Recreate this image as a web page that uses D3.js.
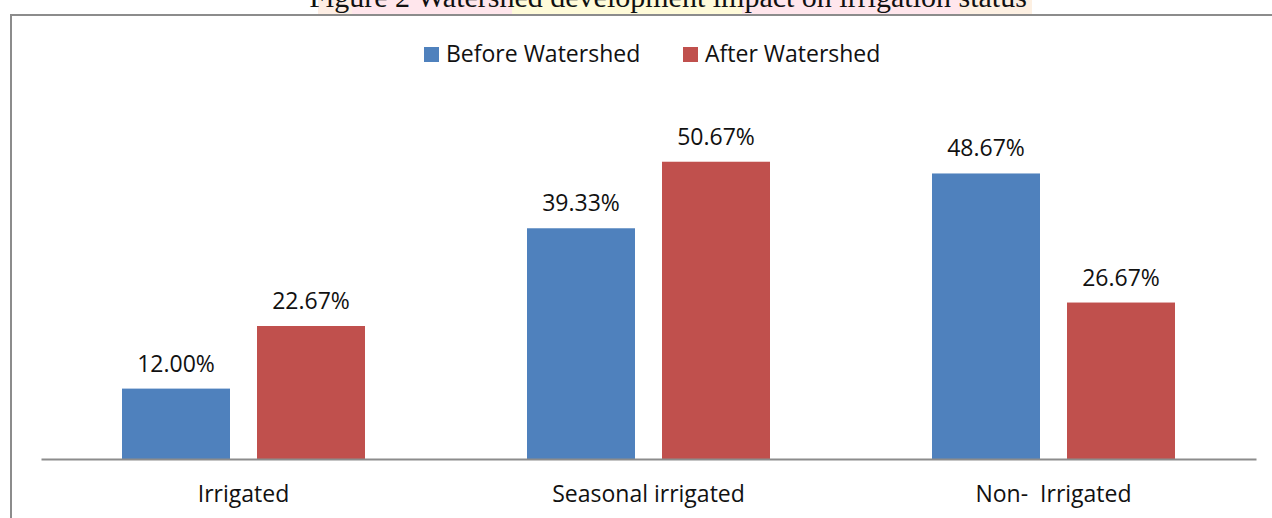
<!DOCTYPE html>
<meta charset="utf-8">
<style type="text/css">
body {
  margin: 0;
  background: #fff;
  font-family: "Open Sans", "Noto Sans", sans-serif;
}
.title {
  font-family: "Liberation Serif", "DejaVu Serif", serif;
  font-size: 30px;
  fill: #111;
}
.label, .legend text {
  font-size: 23px;
  fill: #111;
}
</style>
<body>
</body>

<script src="https://d3js.org/d3.v7.min.js"></script>
<script>
var categories = ["Irrigated", "Seasonal irrigated", "Non-  Irrigated"];
var series = ["Before Watershed", "After Watershed"];
var before = [12.00, 39.33, 48.67];
var after = [22.67, 50.67, 26.67];
var colors = ["#4f81bd", "#c0504d"];

var W = 1272, H = 518;

var svg = d3.select("body")
  .append("svg")
    .attr("width", W)
    .attr("height", H);

// faint watermark behind the cut-off caption
var wm = [
  [318, 352, "#fdeee4"], [352, 512, "#ffe6ec"], [512, 742, "#fffbd9"],
  [742, 960, "#ffe6ec"], [960, 1032, "#fdf0e2"]
];
svg.selectAll("rect.wm")
  .data(wm)
  .enter().append("rect")
    .attr("class", "wm")
    .attr("x", function(d) { return d[0]; })
    .attr("y", 0)
    .attr("width", function(d) { return d[1] - d[0]; })
    .attr("height", 14)
    .attr("fill", function(d) { return d[2]; });

svg.append("text")
  .attr("class", "title")
  .attr("x", 668)
  .attr("y", 7)
  .attr("text-anchor", "middle")
  .text("Figure 2 Watershed development impact on irrigation status");

// chart frame (runs off the right and bottom edges)
svg.append("rect")
  .attr("x", 11)
  .attr("y", 15)
  .attr("width", 1300)
  .attr("height", 560)
  .attr("fill", "#fff")
  .attr("stroke", "#8c8c8c")
  .attr("stroke-width", 2);

var x0 = d3.scaleBand()
  .domain(categories)
  .range([41, 1256]);

var x1 = d3.scaleBand()
  .domain(series)
  .range([0, x0.bandwidth()])
  .paddingInner(0.2)
  .paddingOuter(0.6);

var y = d3.scaleLinear()
  .domain([0, 60])
  .range([459, 107]);

var rows = categories.map(function(c, i) {
  return { cat: c, vals: [before[i], after[i]] };
});

var groups = svg.selectAll("g.cat-group")
  .data(rows)
  .enter().append("g")
    .attr("class", "cat-group")
    .attr("transform", function(d) { return "translate(" + x0(d.cat) + ",0)"; });

var bars = groups.selectAll("g.bar")
  .data(function(d) {
    return d.vals.map(function(v, j) { return { s: series[j], v: v, j: j }; });
  })
  .enter().append("g")
    .attr("class", "bar");

bars.append("rect")
  .attr("x", function(d) { return x1(d.s); })
  .attr("y", function(d) { return y(d.v); })
  .attr("width", x1.bandwidth())
  .attr("height", function(d) { return y(0) - y(d.v); })
  .attr("fill", function(d) { return colors[d.j]; });

bars.append("text")
  .attr("class", "label")
  .attr("x", function(d) { return x1(d.s) + x1.bandwidth() / 2; })
  .attr("y", function(d) { return y(d.v) - 17; })
  .attr("text-anchor", "middle")
  .text(function(d) { return d.v.toFixed(2) + "%"; });

// category axis
var xAxis = d3.axisBottom(x0).tickSize(0).tickPadding(0);
var ax = svg.append("g")
  .attr("transform", "translate(0," + y(0) + ")")
  .call(xAxis);
ax.select(".domain")
  .attr("stroke", "#8c8c8c")
  .attr("stroke-width", 2);
ax.selectAll(".tick text")
  .attr("dy", null)
  .attr("y", 43)
  .style("font-family", "'Open Sans', 'Noto Sans', sans-serif")
  .style("font-size", "23px")
  .style("fill", "#111")
  .style("white-space", "pre")
  .attr("xml:space", "preserve");

// legend
var legendX = [424, 683];
var legend = svg.selectAll("g.legend")
  .data(series)
  .enter().append("g")
    .attr("class", "legend")
    .attr("transform", function(d, i) { return "translate(" + legendX[i] + ",47)"; });

legend.append("rect")
  .attr("width", 15)
  .attr("height", 15)
  .attr("fill", function(d, i) { return colors[i]; });

legend.append("text")
  .attr("x", 22)
  .attr("y", 15)
  .text(function(d) { return d; });
</script>
